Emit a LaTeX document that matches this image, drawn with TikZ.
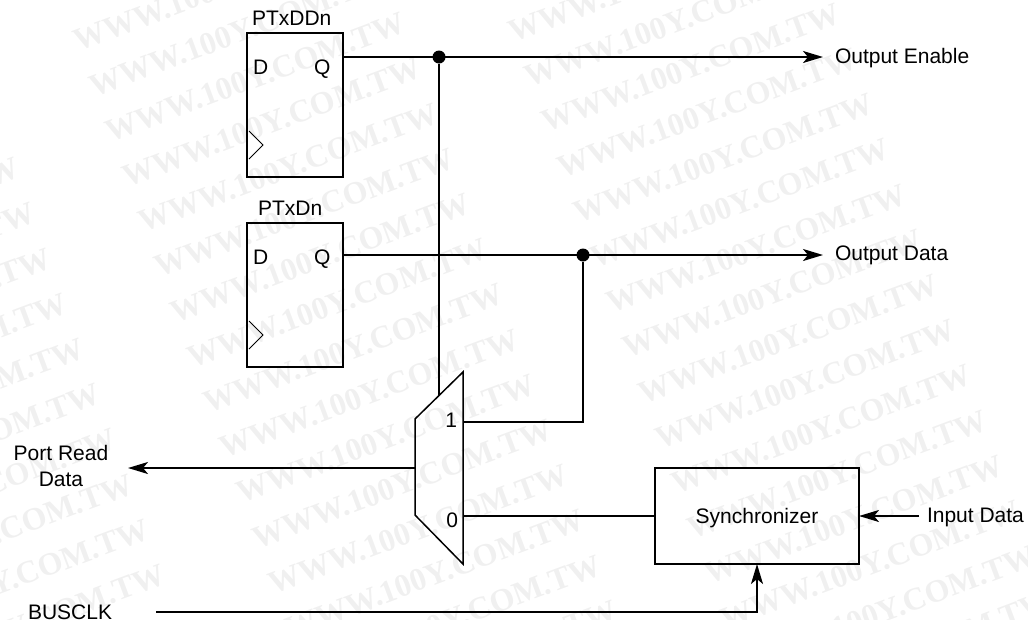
\documentclass[tikz,border=0pt]{standalone}
\usepackage{fontspec}
\setmainfont{Liberation Sans}
\newfontfamily\wmfont{Liberation Serif}
\usetikzlibrary{arrows.meta}
\tikzset{
  x=1pt,y=-1pt,
  lab/.style={inner sep=0pt,outer sep=0pt,anchor=base west,font=\fontsize{21}{24}\selectfont},
  wire/.style={line width=2pt},
  arr/.style={line width=2pt,-{Stealth[length=20pt,width=12pt,inset=5pt]}},
  ff/.style={draw,line width=2pt,minimum width=96pt,minimum height=144pt,inner sep=0pt,outer sep=0pt,anchor=north west},
  junction/.style={circle,fill=black,minimum size=13pt,inner sep=0pt},
  clkmark/.style={line width=1pt},
  mk/.style={rotate=20.5,anchor=base west,text=black!6,font=\wmfont\bfseries\fontsize{32}{34}\selectfont,inner sep=0pt}
}
\begin{document}
\begin{tikzpicture}
\useasboundingbox (0,0) rectangle (1028,619);
\begin{scope}
\clip (0,0) rectangle (1028,619);
\foreach \k in {4,...,14}{\node[mk] (wma\k) at ({-357.4+16.3*\k},{61.4+45.2*\k}) {WWW.100Y.COM.TW};}
\foreach \k in {0,...,15}{\node[mk] (wmb\k) at ({78+16.3*\k},{52+45.2*\k}) {WWW.100Y.COM.TW};}
\foreach \k in {-2,...,13}{\node[mk] (wmc\k) at ({546+16.3*\k},{133+45.2*\k}) {WWW.100Y.COM.TW};}
\end{scope}
% flip-flops
\node[ff] (ffa) at (247,33) {};
\node[ff] (ffb) at (247,223) {};
\node[lab] (ta) at (252,25) {PTxDDn};
\node[lab] (tb) at (258,215) {PTxDn};
\node[lab] (da) at (253,74) {D};
\node[lab] (qa) at (314,74) {Q};
\node[lab] (db) at (253,264) {D};
\node[lab] (qb) at (314,264) {Q};
\draw[clkmark] (249,131) -- (263,145) -- (249,159);
\draw[clkmark] (249,321) -- (263,335) -- (249,349);
% mux
\coordinate (m1) at (463,372);
\coordinate (m2) at (415,419);
\coordinate (m3) at (415,515);
\coordinate (m4) at (463,564);
\draw[line width=1.5pt,line join=miter] (m1) -- (m2) -- (m3) -- (m4) -- cycle;
\node[lab,anchor=base east] (one) at (457,427) {1};
\node[lab,anchor=base east] (zero) at (458,527) {0};
\coordinate (qaout) at (343,57);
\coordinate (qbout) at (343,255);
\coordinate (muxin1) at (463,422);
\coordinate (muxin0) at (463,516);
\coordinate (muxout) at (415,468);
\coordinate (muxtop) at (439,395);
% junctions
\node[junction] (ja) at (439,57) {};
\node[junction] (jb) at (583,255) {};
% synchronizer
\node[draw,line width=2pt,minimum width=204pt,minimum height=96pt,inner sep=0pt,outer sep=0pt,anchor=north west] (sync) at (655,468) {};
\node[lab,anchor=base] (synct) at (757,523) {Synchronizer};
% outside labels
\node[lab] (oe) at (835,63) {Output Enable};
\node[lab] (od) at (835,260) {Output Data};
\node[lab] (in) at (927,522) {Input Data};
\node[lab,anchor=base] (pr1) at (61,460) {Port Read};
\node[lab,anchor=base] (pr2) at (61,486) {Data};
\node[lab] (bc) at (28,619) {BUSCLK};
\coordinate (oetip) at (823,57);
\coordinate (odtip) at (823,255);
\coordinate (prtip) at (128,468);
\coordinate (instart) at (919,516);
\coordinate (bcstart) at (156,612);
\coordinate (bcbend) at (757,612);
% connectors
\draw[arr] (qaout) -- (oetip);
\draw[arr] (qbout) -- (odtip);
\draw[wire] (ja) -- (muxtop);
\draw[wire] (muxin1) -| (jb);
\draw[wire] (muxin0) -- (sync.west |- muxin0);
\draw[arr] (muxout) -- (prtip);
\draw[arr] (instart) -- (sync.east |- instart);
\draw[arr] (bcstart) -- (bcbend) -- (sync.south);
\end{tikzpicture}
\end{document}
